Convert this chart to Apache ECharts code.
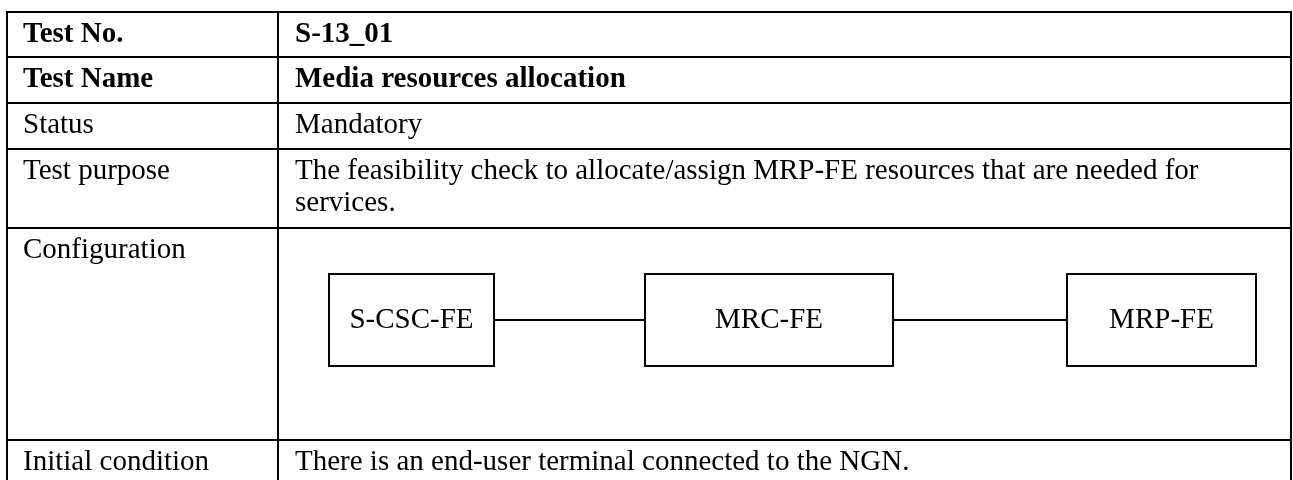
<!DOCTYPE html>
<html>
<head>
<meta charset="utf-8">
<script src="https://cdn.jsdelivr.net/npm/echarts@6/dist/echarts.min.js"></script>
<style>
html,body{margin:0;padding:0;background:#ffffff;}
#c{width:1293px;height:480px;}
</style>
</head>
<body>
<div id="c"></div>
<script>
// ---- content ----
const rowLabels = ['Test No.', 'Test Name', 'Status', 'Test purpose', 'Configuration', 'Initial condition'];
const rowTexts = [
  'S-13_01',
  'Media resources allocation',
  'Mandatory',
  'The feasibility check to allocate/assign MRP-FE resources that are needed for\nservices.',
  '',
  'There is an end-user terminal connected to the NGN.'
];
const rowBold = [true, true, false, false, false, false];
const configNodes = ['S-CSC-FE', 'MRC-FE', 'MRP-FE'];
const configLinks = [[0, 1], [1, 2]];

// ---- layout ----
const W = 1293, H = 480;
const colEdges = [7, 278, 1291];
const rowEdges = [12, 57, 103, 149, 228, 440, 486];
const PAD = 16, FONT = 29, LH = 32.5, TEXT_TOP = 6;
const boxSpans = [[329, 494], [645, 893], [1067, 1256]];
const boxTop = 274, boxBottom = 366;
const BOX_FONT = 29;
const FF = 'Liberation Serif';
const LW = 2;

const chart = echarts.init(document.getElementById('c'), null, {renderer: 'canvas'});

function txt(x, y, text, bold, size, align, vAlign) {
  return {type: 'text', style: {x: x, y: y, text: text,
    fontFamily: FF, fontSize: size, fontWeight: bold ? 'bold' : 'normal',
    fill: '#000', align: align, verticalAlign: vAlign, lineHeight: LH}};
}

function tableItem(params, api) {
  const i = api.value(0);
  const top = rowEdges[i], bottom = rowEdges[i + 1];
  const p0 = api.coord([colEdges[0], top]);
  const p1 = api.coord([colEdges[1], bottom]);
  const p2 = api.coord([colEdges[2], bottom]);
  return {
    type: 'group',
    children: [
      {type: 'rect', shape: {x: p0[0], y: p0[1], width: p1[0] - p0[0], height: p1[1] - p0[1]},
       style: {fill: null, stroke: '#000', lineWidth: LW}},
      {type: 'rect', shape: {x: p1[0], y: p0[1], width: p2[0] - p1[0], height: p1[1] - p0[1]},
       style: {fill: null, stroke: '#000', lineWidth: LW}},
      txt(p0[0] + PAD, p0[1] + TEXT_TOP, rowLabels[i], rowBold[i], FONT, 'left', 'top'),
      txt(p1[0] + PAD + 1, p0[1] + TEXT_TOP, rowTexts[i], rowBold[i], FONT, 'left', 'top')
    ]
  };
}

function nodeItem(params, api) {
  const i = api.value(0);
  const s = boxSpans[i];
  const a = api.coord([s[0], boxTop]);
  const b = api.coord([s[1], boxBottom]);
  return {
    type: 'group',
    children: [
      {type: 'rect', shape: {x: a[0], y: a[1], width: b[0] - a[0], height: b[1] - a[1]},
       style: {fill: '#fff', stroke: '#000', lineWidth: LW}},
      txt((a[0] + b[0]) / 2, (a[1] + b[1]) / 2, configNodes[i], false, BOX_FONT, 'center', 'middle')
    ]
  };
}

function linkItem(params, api) {
  const f = api.value(0), t = api.value(1);
  const ym = (boxTop + boxBottom) / 2;
  const a = api.coord([boxSpans[f][1], ym]);
  const b = api.coord([boxSpans[t][0], ym]);
  return {type: 'line', shape: {x1: a[0], y1: a[1], x2: b[0], y2: b[1]},
          style: {stroke: '#000', lineWidth: LW}};
}

chart.setOption({
  animation: false,
  backgroundColor: '#ffffff',
  grid: {left: 0, top: 0, width: W, height: H},
  xAxis: {type: 'value', min: 0, max: W, show: false},
  yAxis: {type: 'value', min: 0, max: H, inverse: true, show: false},
  series: [
    {type: 'custom', renderItem: tableItem, clip: false, silent: true,
     data: rowLabels.map((_, i) => [i])},
    {type: 'custom', renderItem: linkItem, clip: false, silent: true,
     data: configLinks},
    {type: 'custom', renderItem: nodeItem, clip: false, silent: true,
     data: configNodes.map((_, i) => [i])}
  ]
});
</script>
</body>
</html>
